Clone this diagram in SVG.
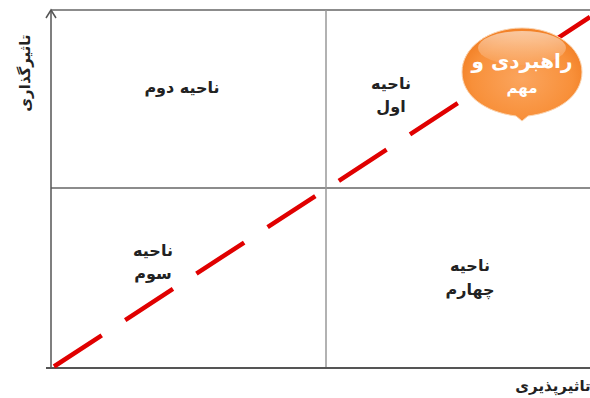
<svg xmlns="http://www.w3.org/2000/svg" width="590" height="398" viewBox="0 0 590 398">
<style>
.lbl{font-family:"DejaVu Sans",sans-serif;font-weight:bold;fill:#222;text-anchor:middle}
.wht{font-family:"DejaVu Sans",sans-serif;font-weight:bold;fill:#fff;text-anchor:middle}
</style>
<defs>
<radialGradient id="og" cx="0.5" cy="0.55" r="0.6">
<stop offset="0" stop-color="#FBA55E"/>
<stop offset="0.7" stop-color="#F8903A"/>
<stop offset="1" stop-color="#F07A1E"/>
</radialGradient>
<linearGradient id="gl" x1="0" y1="0" x2="0" y2="1">
<stop offset="0" stop-color="#fff" stop-opacity="0.55"/>
<stop offset="1" stop-color="#fff" stop-opacity="0.05"/>
</linearGradient>
</defs>
<rect width="590" height="398" fill="#fff"/>
<g id="grid">
<line x1="51" y1="10" x2="590" y2="10" stroke="#666" stroke-width="1.5"/>
<line x1="51" y1="188" x2="590" y2="188" stroke="#666" stroke-width="1.5"/>
<line x1="326" y1="10" x2="326" y2="368" stroke="#999" stroke-width="1.5"/>
</g>
<g id="connectors">
<line x1="51" y1="368" x2="51" y2="10" stroke="#555" stroke-width="1.5"/>
<polyline points="46,18 51,10 56,18" fill="none" stroke="#555" stroke-width="1.5"/>
<line x1="46" y1="368" x2="590" y2="368" stroke="#555" stroke-width="1.8"/>
<line x1="54" y1="366.5" x2="590" y2="17" stroke="#E00000" stroke-width="4.5" stroke-dasharray="57 28"/>
</g>
<g id="zone2"><text class="lbl" x="182" y="93" font-size="16">ناحیه دوم</text></g>
<g id="zone1"><text class="lbl" x="391" y="89" font-size="16">ناحیه</text><text class="lbl" x="391" y="112" font-size="16">اول</text></g>
<g id="zone3"><text class="lbl" x="153" y="256" font-size="16">ناحیه</text><text class="lbl" x="153" y="279" font-size="16">سوم</text></g>
<g id="zone4"><text class="lbl" x="470" y="271" font-size="16">ناحیه</text><text class="lbl" x="470" y="295" font-size="16">چهارم</text></g>
<g id="yaxis"><text class="lbl" transform="translate(30,73) rotate(-90)" font-size="15">تاثیرگذاری</text></g>
<g id="xaxis"><text class="lbl" x="553" y="391" font-size="15">تاثیرپذیری</text></g>
<g id="strategic">
<path d="M522,28 C556,28 582,48 582,72 C582,95 560,112 528,116 L522,121 L516,116 C484,112 462,95 462,72 C462,48 488,28 522,28 Z" fill="url(#og)" stroke="#FBD3AE" stroke-width="1"/>
<ellipse cx="522" cy="48" rx="44" ry="17" fill="url(#gl)"/>
<text class="wht" x="522" y="68" font-size="20">راهبردی و</text>
<text class="wht" x="522" y="93" font-size="15">مهم</text>
</g>
</svg>
